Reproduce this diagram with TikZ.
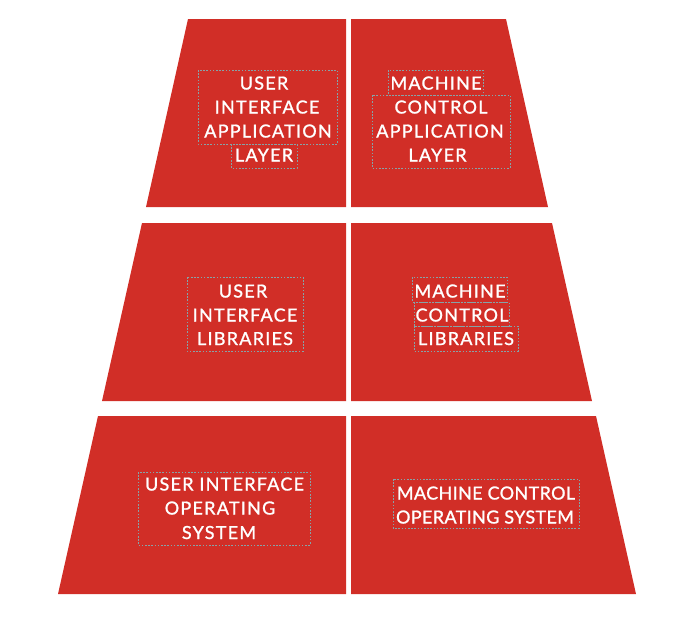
\documentclass[tikz,border=0pt]{standalone}
\usepackage{fontspec}
\setmainfont[LetterSpace=7,FakeBold=1.2]{Lato}
\definecolor{blockred}{HTML}{D12E27}
\definecolor{frameline}{HTML}{86A3A8}
\begin{document}
\begin{tikzpicture}[x=1pt,y=-1pt,
  block/.style={fill=blockred,draw=none},
  frame/.style={draw=frameline,line width=0.7pt,dash pattern=on 1.6pt off 1.6pt},
  lbl/.style={text=white,anchor=base,inner sep=0pt,font=\fontsize{18}{20}\selectfont},
  tight/.style={lbl,font=\fontsize{18}{20}\selectfont\addfontfeature{LetterSpace=2}}]
\useasboundingbox (0,0) rectangle (688,619);
% blocks
\path[block] (188,19) -- (346,19) -- (346,207) -- (146,207) -- cycle;
\path[block] (351,19) -- (506,19) -- (548,207) -- (351,207) -- cycle;
\path[block] (142,223) -- (346,223) -- (346,401) -- (102,401) -- cycle;
\path[block] (351,223) -- (552,223) -- (592,401) -- (351,401) -- cycle;
\path[block] (98,416) -- (346,416) -- (346,594) -- (58,594) -- cycle;
\path[block] (351,416) -- (596,416) -- (636,594) -- (351,594) -- cycle;
% frames
\draw[frame] (198,70) rectangle (337,144);
\draw[frame] (231,144) rectangle (297,168);
\draw[frame] (388,70) rectangle (483,95);
\draw[frame] (372,95) rectangle (510,168);
\draw[frame] (187,277) rectangle (303,351);
\draw[frame] (412,277) rectangle (507,302);
\draw[frame] (414,302) rectangle (509,326);
\draw[frame] (414,326) rectangle (518,351);
\draw[frame] (138,472) rectangle (310,545);
\draw[frame] (393,479) rectangle (579,528);
% labels top-left
\node[lbl] (tl1) at (264,89.5) {USER};
\node[lbl] (tl2) at (267,113.5) {INTERFACE};
\node[lbl] (tl3) at (268,137.5) {APPLICATION};
\node[lbl] (tl4) at (264,161.5) {LAYER};
% top-right
\node[lbl] (tr1) at (436,89.5) {MACHINE};
\node[lbl] (tr2) at (441,113.5) {CONTROL};
\node[lbl] (tr3) at (440,137.5) {APPLICATION};
\node[lbl] (tr4) at (437.5,161.5) {LAYER};
% middle-left
\node[lbl] (ml1) at (243,297.5) {USER};
\node[lbl] (ml2) at (245,321.5) {INTERFACE};
\node[lbl] (ml3) at (245,345) {LIBRARIES};
% middle-right
\node[lbl] (mr1) at (460,297.5) {MACHINE};
\node[lbl] (mr2) at (462,321.5) {CONTROL};
\node[lbl] (mr3) at (466,345) {LIBRARIES};
% bottom-left
\node[lbl] (bl1) at (224.5,490.5) {USER INTERFACE};
\node[lbl] (bl2) at (220,514.5) {OPERATING};
\node[lbl] (bl3) at (219,539) {SYSTEM};
% bottom-right
\node[tight] (br1) at (486,499.5) {MACHINE CONTROL};
\node[tight] (br2) at (485,523.5) {OPERATING SYSTEM};
\end{tikzpicture}
\end{document}
